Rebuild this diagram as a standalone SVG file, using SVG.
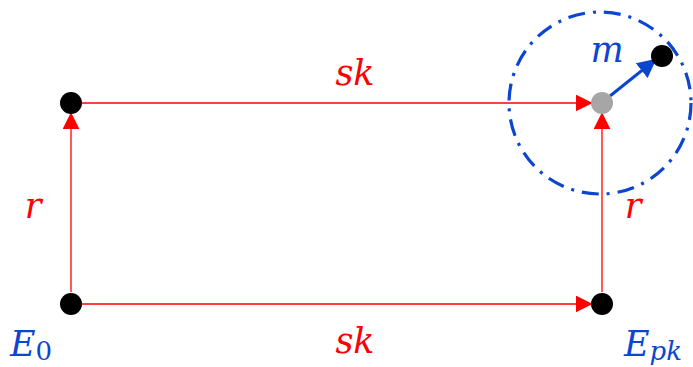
<svg xmlns="http://www.w3.org/2000/svg" width="693" height="367" viewBox="0 0 693 367">
<style>
.red{stroke:#ff0000;stroke-width:1.3;fill:none}
.lbl{font-family:"DejaVu Serif","Liberation Serif",serif;font-style:italic;font-size:35px}
.r{fill:#ff0000}
.b{fill:#0b46d0}
</style>
<defs>
<marker id="ra" markerWidth="17" markerHeight="17" refX="9" refY="5" orient="auto" markerUnits="userSpaceOnUse" viewBox="0 0 10 10"><path d="M0,0 L10,5 L0,10 Z" fill="#ff0000"/></marker>
<marker id="ba" markerWidth="19" markerHeight="19" refX="9" refY="5" orient="auto" markerUnits="userSpaceOnUse" viewBox="0 0 10 10"><path d="M0,0 L10,5 L0,10 Z" fill="#0b46d0"/></marker>
</defs>
<rect width="693" height="367" fill="#ffffff"/>
<circle cx="600" cy="103" r="91" fill="none" stroke="#0b46d0" stroke-width="3.2" stroke-dasharray="17,8,3,8"/>
<g id="connectors">
<line class="red" x1="82" y1="103" x2="591" y2="103" marker-end="url(#ra)"/>
<line class="red" x1="82" y1="304" x2="591" y2="304" marker-end="url(#ra)"/>
<line class="red" x1="71" y1="292" x2="71" y2="114" marker-end="url(#ra)"/>
<line class="red" x1="602" y1="292" x2="602" y2="114" marker-end="url(#ra)"/>
<line x1="610" y1="96" x2="655" y2="60" stroke="#0b46d0" stroke-width="3" marker-end="url(#ba)"/>
</g>
<g id="E0"><circle cx="71" cy="304" r="11" fill="#000"/><text class="lbl b" x="10" y="356" font-size="38">E<tspan font-size="26" dy="4" font-style="normal">0</tspan></text></g>
<g id="n1"><circle cx="71" cy="103" r="11" fill="#000"/></g>
<g id="Epk"><circle cx="602" cy="304" r="11" fill="#000"/><text class="lbl b" x="624" y="356" font-size="38">E<tspan font-size="26" dy="4">pk</tspan></text></g>
<g id="gray"><circle cx="602" cy="103" r="11" fill="#a6a6a6"/></g>
<g id="mnode"><circle cx="662" cy="56" r="11" fill="#000"/></g>
<text class="lbl r" x="355" y="85" text-anchor="middle">sk</text>
<text class="lbl r" x="355" y="353" text-anchor="middle">sk</text>
<text class="lbl r" x="33" y="218" text-anchor="middle">r</text>
<text class="lbl r" x="633" y="218" text-anchor="middle">r</text>
<text class="lbl b" x="607" y="62" text-anchor="middle">m</text>
</svg>
